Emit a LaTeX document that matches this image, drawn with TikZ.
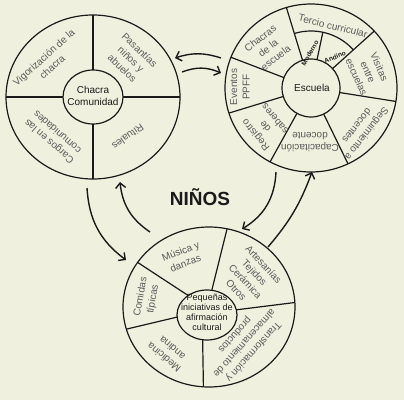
\documentclass[tikz,border=0pt]{standalone}
\usepackage{fontspec}
\setmainfont{Liberation Sans}
\usetikzlibrary{arrows.meta,shapes.geometric,calc}
\definecolor{ninocream}{HTML}{F0F0DE}
\definecolor{ninogray}{HTML}{5A5A5A}
\definecolor{ninoink}{HTML}{1A1A1A}

\begin{document}
\begin{tikzpicture}[
        x=1pt, y=1pt,
        ring/.style={
          draw=ninoink,
          ellipse,
          line width=1.2pt,
          inner sep=0pt,
          outer sep=0pt
        },
        hub/.style={
          draw=ninoink,
          ellipse,
          fill=ninocream,
          line width=1.2pt,
          inner sep=0pt,
          outer sep=0pt
        },
        lbl/.style={
          align=center,
          text=ninogray,
          font=\fontsize{10}{12.5}\selectfont,
          inner sep=0pt
        },
        hubtext/.style={
          align=center,
          text=ninoink,
          font=\fontsize{10}{12}\selectfont,
          inner sep=0pt
        },
        tiny/.style={
          text=ninoink,
          font=\fontsize{6.5}{7.5}\selectfont\bfseries,
          inner sep=0pt
        },
        spoke/.style={
          draw=ninoink,
          line width=1.2pt
        },
        arrow/.style={
          -{Straight Barb[length=5pt,width=10pt]},
          line width=1.4pt,
          ninoink
        }
      ]

      \path[use as bounding box, fill=ninocream] (0,0) rectangle (404,400);

      % chacra - comunidad
      \node[ring, minimum width=174pt, minimum height=164pt] (chacra) at (93,303) {};
      \node[hub, minimum width=60pt, minimum height=54pt] (chacrahub) at (93,303) {};
      \foreach \a in {0,90,180,270}
        \draw[spoke] (chacrahub.\a) -- (chacra.\a);

      \node[hubtext] (chacratxt) at (93,304) {Chacra\\Comunidad};
      \node[lbl, rotate=42] (vigor) at (48,338) {Vigorización de la\\chacra};
      \node[lbl, rotate=-44] (pasantias) at (131,341) {Pasantías\\niños y\\abuelos};
      \node[lbl, rotate=215] (rituales) at (128,263) {Rituales};
      \node[lbl, rotate=139] (cargos) at (53,263) {Cargos en las\\comunidades};

      % escuela
      \node[ring, minimum width=172pt, minimum height=168pt] (escuela) at (311,312) {};
      \node[hub, minimum size=58pt] (escuelahub) at (311,312) {};
      \foreach \a in {107,42,351,296,241,197,159}
        \draw[spoke] (escuelahub.\a) -- (escuela.\a);
      \draw[spoke] ($(escuela)+(42:57pt)$) arc[start angle=42, end angle=107, radius=57pt];
      \draw[spoke] (escuelahub.78) -- ($(escuela)+(78:57pt)$);

      \node[hubtext] (escuelatxt) at (312,312) {Escuela};
      \node[lbl, rotate=-14] (tercio) at (333,374) {Tercio curricular};
      \node[tiny, rotate=60] (moderno) at (310,347) {Moderno};
      \node[tiny, rotate=22] (andino) at (335,343) {Andino};
      \node[lbl, rotate=38] (chacras) at (268,352) {Chacras\\de la\\escuela};
      \node[lbl, rotate=-66] (visitas) at (368,328) {Visitas\\entre\\escuelas};
      \node[lbl, rotate=90] (eventos) at (240,313) {Eventos\\PPFF};
      \node[lbl, rotate=130] (registro) at (265,273) {Registro\\de\\saberes};
      \node[lbl, rotate=180] (capacitacion) at (310,258) {Capacitación\\docente};
      \node[lbl, rotate=232] (seguimiento) at (362,270) {Seguimiento a\\docentes};

      % pequenas iniciativas
      \node[ring, minimum width=172pt, minimum height=160pt] (iniciativas) at (209,93) {};
      \node[hub, minimum width=60pt, minimum height=50pt] (iniciativashub) at (207,85) {};
      \foreach \i/\o in {79/77,10/3,260/266,184/195,134/148}
        \draw[spoke] (iniciativashub.\i) -- (iniciativas.\o);

      \node[hubtext, font=\fontsize{9}{10}\selectfont] (iniciativastxt) at (207,88)
        {Pequeñas\\iniciativas de\\afirmación\\cultural};
      \node[lbl, rotate=22] (musica) at (183,143) {Música y\\danzas};
      \node[lbl, rotate=-47] (artesanias) at (250,123) {Artesanías\\Tejidos\\Cerámica\\Otros};
      \node[lbl, rotate=80] (comidas) at (147,102) {Comidas\\típicas};
      \node[lbl, rotate=140] (medicina) at (168,47) {Medicina\\andina};
      \node[lbl, rotate=228] (transformacion) at (244,57)
        {Transformación y\\almacenamiento de\\productos};

      \node[text=ninoink, font=\fontsize{19}{22}\selectfont\bfseries] (ninos) at (200,203) {NIÑOS};

      % flechas
      \coordinate (escuela-w1) at (221,342);
      \coordinate (chacra-e1) at (175,342);
      \coordinate (chacra-e2) at (182,328);
      \coordinate (escuela-w2) at (221,327);
      \coordinate (chacra-s1) at (87,212);
      \coordinate (iniciativas-nw1) at (126,140);
      \coordinate (iniciativas-nw2) at (150,168);
      \coordinate (chacra-s2) at (120,218);
      \coordinate (escuela-s1) at (276,228);
      \coordinate (iniciativas-ne1) at (242,171);
      \coordinate (iniciativas-ne2) at (268,153);
      \coordinate (escuela-s2) at (312,228);

      \draw[arrow] (escuela-w1) to[bend right=18] (chacra-e1);
      \draw[arrow] (chacra-e2) to[bend left=22] (escuela-w2);
      \draw[arrow] (chacra-s1) to[bend right=25] (iniciativas-nw1);
      \draw[arrow] (iniciativas-nw2) to[bend left=25] (chacra-s2);
      \draw[arrow] (escuela-s1) to[bend left=28] (iniciativas-ne1);
      \draw[arrow] (iniciativas-ne2) to[bend right=10] (escuela-s2);

      \end{tikzpicture}
\end{document}
